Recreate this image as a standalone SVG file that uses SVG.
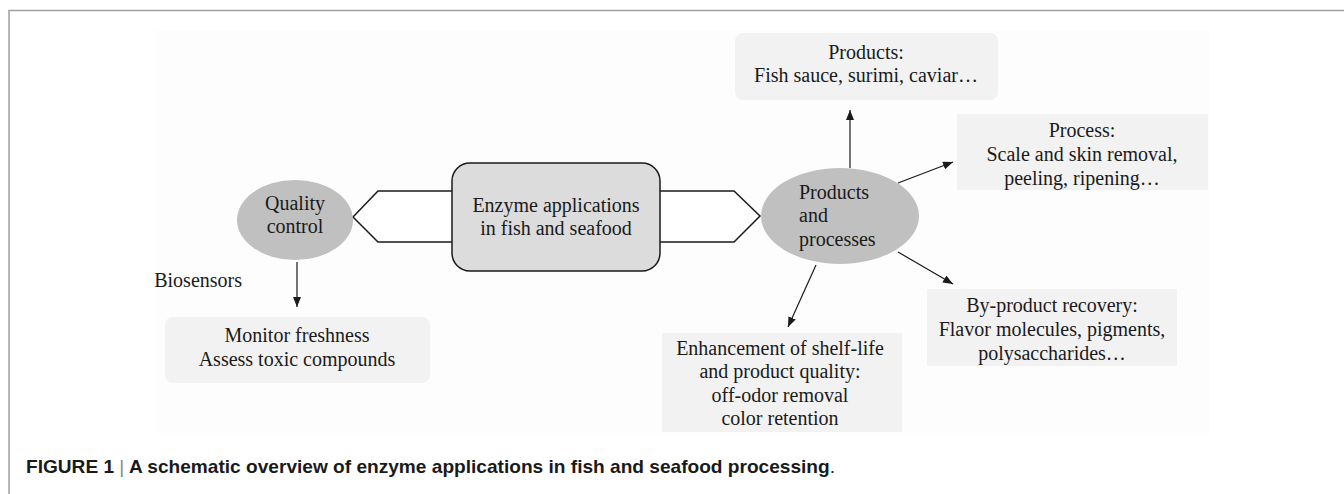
<svg xmlns="http://www.w3.org/2000/svg" width="1344" height="494" viewBox="0 0 1344 494">
<style>
.t{font-family:"Liberation Serif","Times New Roman",serif;font-size:20px;fill:#1a1a1a;text-anchor:middle}
.tl{text-anchor:start}
.te{text-anchor:end}
.light{fill:#f2f2f2}
.ell{fill:#c0c0c0}
.hex{fill:#ffffff;stroke:#1a1a1a;stroke-width:1.5}
.con{stroke:#1a1a1a;stroke-width:1.2;fill:none;marker-end:url(#ah)}
.cap{font-family:"Liberation Sans",Arial,sans-serif;font-size:18.5px;font-weight:bold;fill:#1a1a1a}
</style>
<defs>
<marker id="ah" viewBox="0 0 10 8" refX="10" refY="4" markerWidth="10" markerHeight="8" orient="auto" markerUnits="userSpaceOnUse">
<path d="M0,0 L10,4 L0,8 z" fill="#1a1a1a"/>
</marker>
</defs>
<rect x="0" y="0" width="1344" height="494" fill="#ffffff"/>
<path d="M9,494 L9,10.5 L1344,10.5" fill="none" stroke="#a0a0a0" stroke-width="1.5"/>
<rect x="155" y="30" width="1055" height="403" fill="#fdfdfd"/>

<g id="hex-left"><polyline class="hex" points="452,191 378,191 353,217 378,242 452,242"/></g>
<g id="hex-right"><polyline class="hex" points="660,191 734,191 760,216 734,242 660,242"/></g>

<g id="center">
<rect x="452" y="163" width="208" height="108" rx="18" fill="#dcdcdc" stroke="#1a1a1a" stroke-width="1.5"/>
<text class="t" x="556" y="212">Enzyme applications</text>
<text class="t" x="556" y="235">in fish and seafood</text>
</g>

<g id="quality">
<ellipse class="ell" cx="295" cy="220" rx="58" ry="40"/>
<text class="t" x="295" y="210">Quality</text>
<text class="t" x="295" y="233">control</text>
</g>

<g id="prodproc">
<ellipse class="ell" cx="840" cy="216" rx="79" ry="48"/>
<text class="t tl" x="799" y="199">Products</text>
<text class="t tl" x="799" y="222">and</text>
<text class="t tl" x="799" y="246">processes</text>
</g>

<g id="biosensors"><text class="t te" x="242" y="287">Biosensors</text></g>

<g id="monitor">
<rect class="light" x="165" y="317" width="265" height="66" rx="8"/>
<text class="t" x="297" y="342">Monitor freshness</text>
<text class="t" x="297" y="366">Assess toxic compounds</text>
</g>

<g id="products">
<rect class="light" x="735" y="33" width="263" height="67" rx="8"/>
<text class="t" x="866" y="59">Products:</text>
<text class="t" x="866" y="82">Fish sauce, surimi, caviar…</text>
</g>

<g id="process">
<rect class="light" x="957" y="114" width="251" height="76"/>
<text class="t" x="1082" y="137">Process:</text>
<text class="t" x="1082" y="161">Scale and skin removal,</text>
<text class="t" x="1082" y="185">peeling, ripening…</text>
</g>

<g id="byproduct">
<rect class="light" x="927" y="289" width="250" height="77"/>
<text class="t" x="1052" y="312">By-product recovery:</text>
<text class="t" x="1052" y="336">Flavor molecules, pigments,</text>
<text class="t" x="1052" y="360">polysaccharides…</text>
</g>

<g id="enhancement">
<rect class="light" x="662" y="333" width="240" height="99"/>
<text class="t" x="780" y="355">Enhancement of shelf-life</text>
<text class="t" x="780" y="378">and product quality:</text>
<text class="t" x="780" y="402">off-odor removal</text>
<text class="t" x="780" y="425">color retention</text>
</g>

<g id="connectors">
<line class="con" x1="297" y1="262" x2="297" y2="307"/>
<line class="con" x1="850" y1="168" x2="850" y2="110"/>
<line class="con" x1="898" y1="183" x2="953" y2="162"/>
<line class="con" x1="898" y1="252" x2="953" y2="284"/>
<line class="con" x1="816" y1="265" x2="788" y2="327"/>
</g>

<text class="cap" x="26" y="473" textLength="809" lengthAdjust="spacingAndGlyphs">FIGURE 1 <tspan font-weight="normal" fill="#888888">|</tspan> A schematic overview of enzyme applications in fish and seafood processing<tspan font-weight="normal">.</tspan></text>
</svg>
